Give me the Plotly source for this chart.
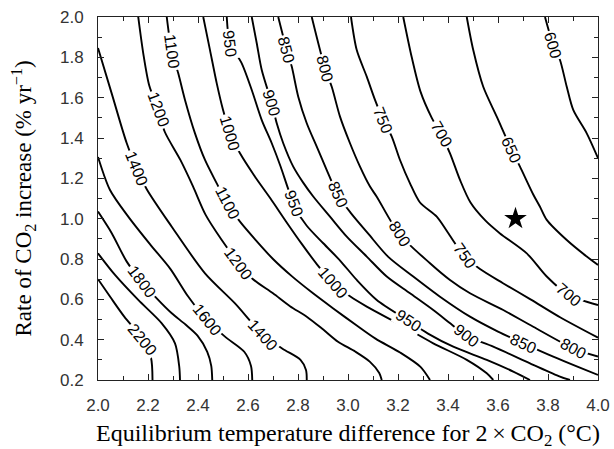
import math
import plotly.graph_objects as go

# ---- contour lines (x = equilibrium dT for 2xCO2, y = rate of CO2 increase) ----
x_2200 = [2.0, 2.05, 2.105, 2.178, 2.212, 2.218]
y_2200 = [0.70, 0.61, 0.514, 0.403, 0.31, 0.2]

x_2000 = [2.0, 2.068, 2.161, 2.255, 2.308, 2.325, 2.328]
y_2000 = [0.828, 0.721, 0.597, 0.481, 0.382, 0.266, 0.2]

x_1800 = [2.0, 2.055, 2.115, 2.175, 2.235, 2.295, 2.35, 2.398, 2.437, 2.453, 2.457]
y_1800 = [1.035, 0.928, 0.787, 0.688, 0.605, 0.531, 0.475, 0.42, 0.34, 0.27, 0.2]

x_1600 = [2.0, 2.048, 2.121, 2.21, 2.29, 2.36, 2.435, 2.508, 2.585, 2.612, 2.617]
y_1600 = [1.306, 1.142, 1.01, 0.87, 0.75, 0.615, 0.498, 0.415, 0.34, 0.27, 0.2]

x_1400 = [2.0, 2.055, 2.115, 2.155, 2.195, 2.295, 2.428, 2.548, 2.661, 2.738, 2.81, 2.832, 2.835]
y_1400 = [1.846, 1.62, 1.374, 1.25, 1.146, 0.96, 0.729, 0.58, 0.423, 0.355, 0.30, 0.25, 0.2]

x_1200 = [2.161, 2.181, 2.205, 2.241, 2.267, 2.33, 2.38, 2.43, 2.495, 2.562, 2.62, 2.70, 2.768,
          2.835, 2.901, 2.96, 3.03, 3.088, 3.125, 3.135]
y_1200 = [2.0, 1.82, 1.66, 1.539, 1.431, 1.29, 1.16, 1.02, 0.894, 0.78, 0.70, 0.63, 0.566,
          0.514, 0.45, 0.39, 0.34, 0.29, 0.235, 0.2]

x_1100 = [2.275, 2.295, 2.321, 2.348, 2.388, 2.428, 2.475, 2.516, 2.568, 2.63, 2.70, 2.775,
          2.855, 2.941, 3.035, 3.11, 3.21, 3.29, 3.328]
y_1100 = [2.0, 1.828, 1.721, 1.589, 1.423, 1.291, 1.175, 1.078, 0.985, 0.895, 0.80, 0.715,
          0.635, 0.555, 0.47, 0.405, 0.335, 0.265, 0.2]

x_1000 = [2.421, 2.448, 2.475, 2.50, 2.528, 2.568, 2.628, 2.69, 2.75, 2.815, 2.875, 2.939,
          3.008, 3.075, 3.208, 3.341, 3.475, 3.555, 3.581]
y_1000 = [2.0, 1.836, 1.671, 1.54, 1.423, 1.324, 1.208, 1.10, 0.99, 0.875, 0.775, 0.683,
          0.615, 0.564, 0.475, 0.382, 0.30, 0.233, 0.2]

x_950 = [2.515, 2.528, 2.575, 2.615, 2.655, 2.695, 2.73, 2.76, 2.79, 2.835, 2.901, 2.97,
         3.035, 3.115, 3.241, 3.32, 3.421, 3.555, 3.661, 3.728]
y_950 = [2.0, 1.87, 1.77, 1.638, 1.489, 1.374, 1.26, 1.15, 1.05, 0.965, 0.878, 0.79,
         0.696, 0.597, 0.494, 0.43, 0.365, 0.30, 0.242, 0.2]

x_900 = [2.615, 2.635, 2.655, 2.695, 2.715, 2.741, 2.781, 2.82, 2.861, 2.928, 2.995, 3.075,
         3.155, 3.248, 3.341, 3.41, 3.472, 3.581, 3.728, 3.848, 3.888]
y_900 = [2.0, 1.87, 1.737, 1.572, 1.473, 1.374, 1.258, 1.18, 1.11, 1.01, 0.911, 0.812,
         0.713, 0.63, 0.547, 0.48, 0.42, 0.365, 0.283, 0.217, 0.2]

x_850 = [2.721, 2.755, 2.775, 2.801, 2.835, 2.875, 2.915, 2.959, 3.01, 3.08, 3.16, 3.261,
         3.368, 3.488, 3.60, 3.701, 3.821, 3.92, 4.0]
y_850 = [2.0, 1.836, 1.754, 1.605, 1.473, 1.357, 1.241, 1.118, 1.03, 0.927, 0.812, 0.713,
         0.613, 0.514, 0.44, 0.382, 0.316, 0.265, 0.225]

x_800 = [2.855, 2.908, 2.935, 2.968, 3.008, 3.048, 3.088, 3.115, 3.205, 3.328, 3.408, 3.488,
         3.621, 3.741, 3.901, 4.0]
y_800 = [2.0, 1.746, 1.654, 1.506, 1.374, 1.258, 1.159, 1.109, 0.924, 0.779, 0.696, 0.63,
         0.547, 0.464, 0.357, 0.316]

x_750 = [3.012, 3.035, 3.075, 3.108, 3.141, 3.175, 3.208, 3.248, 3.288, 3.355, 3.40, 3.465,
         3.528, 3.62, 3.73, 3.85, 4.0]
y_750 = [2.0, 1.836, 1.704, 1.589, 1.489, 1.407, 1.291, 1.175, 1.08, 1.01, 0.93, 0.815,
         0.75, 0.68, 0.60, 0.51, 0.41]

x_700 = [3.221, 3.255, 3.29, 3.335, 3.372, 3.408, 3.448, 3.49, 3.55, 3.608, 3.715, 3.795,
         3.881, 4.0]
y_700 = [2.0, 1.80, 1.63, 1.50, 1.42, 1.324, 1.192, 1.08, 0.99, 0.927, 0.828, 0.713,
         0.622, 0.572]

x_650 = [3.475, 3.501, 3.541, 3.595, 3.655, 3.688, 3.741, 3.768, 3.795, 3.875, 3.955, 4.0]
y_650 = [2.0, 1.836, 1.654, 1.506, 1.34, 1.258, 1.12, 1.059, 0.994, 0.894, 0.812, 0.77]

x_600 = [3.788, 3.821, 3.848, 3.875, 3.901, 3.955, 4.0]
y_600 = [2.0, 1.861, 1.787, 1.654, 1.539, 1.423, 1.30]

# ---- contour labels (value and approximate position along its line) ----
label_values = [2200, 1800, 1600, 1400, 1400, 1200, 1200, 1100, 1100, 1000, 1000,
                950, 950, 950, 900, 900, 850, 850, 850, 800, 800, 800, 750, 750,
                700, 700, 650, 600]
label_x = [2.178, 2.175, 2.435, 2.155, 2.661, 2.241, 2.562, 2.295, 2.516, 2.528, 2.939,
           2.528, 2.775, 3.241, 2.695, 3.472, 2.755, 2.959, 3.701, 2.908, 3.205, 3.901,
           3.141, 3.465, 3.372, 3.881, 3.655, 3.821]
label_y = [0.403, 0.688, 0.498, 1.25, 0.423, 1.539, 0.78, 1.828, 1.078, 1.423, 0.683,
           1.87, 1.07, 0.494, 1.572, 0.42, 1.836, 1.118, 0.382, 1.746, 0.924, 0.357,
           1.489, 0.815, 1.42, 0.622, 1.34, 1.861]

# ---- marked point ----
star_x = [3.67]
star_y = [1.0]

x_range = [2.0, 4.0]
y_range = [0.2, 2.0]

lines = {
    2200: (x_2200, y_2200), 2000: (x_2000, y_2000), 1800: (x_1800, y_1800),
    1600: (x_1600, y_1600), 1400: (x_1400, y_1400), 1200: (x_1200, y_1200),
    1100: (x_1100, y_1100), 1000: (x_1000, y_1000), 950: (x_950, y_950),
    900: (x_900, y_900), 850: (x_850, y_850), 800: (x_800, y_800),
    750: (x_750, y_750), 700: (x_700, y_700), 650: (x_650, y_650), 600: (x_600, y_600),
}

W, H = 614, 449
ML, MR, MT, MB = 98, 16, 17, 69
PW, PH = W - ML - MR, H - MT - MB
sx = PW / (x_range[1] - x_range[0])
sy = PH / (y_range[1] - y_range[0])

fig = go.Figure()
for lev, (xs, ys) in lines.items():
    fig.add_trace(go.Scatter(
        x=xs, y=ys, mode="lines",
        line=dict(color="black", width=1.9, shape="spline", smoothing=0.8),
        hoverinfo="skip", showlegend=False))

fig.add_trace(go.Scatter(
    x=star_x, y=star_y, mode="markers",
    marker=dict(symbol="star", size=17, color="black", line=dict(width=0)),
    hoverinfo="skip", showlegend=False))


def place_on_line(xs, ys, lx, ly):
    best = None
    px, py = lx * sx, -ly * sy
    for i in range(len(xs) - 1):
        ax, ay = xs[i] * sx, -ys[i] * sy
        bx, by = xs[i + 1] * sx, -ys[i + 1] * sy
        dx, dy = bx - ax, by - ay
        t = ((px - ax) * dx + (py - ay) * dy) / (dx * dx + dy * dy)
        t = max(0.0, min(1.0, t))
        qx, qy = ax + t * dx, ay + t * dy
        d = (qx - px) ** 2 + (qy - py) ** 2
        if best is None or d < best[0]:
            best = (d, qx / sx, -qy / sy, math.degrees(math.atan2(dy, dx)))
    return best[1], best[2], best[3]


annotations = []
for v, lx, ly in zip(label_values, label_x, label_y):
    xs, ys = lines[v]
    ax_, ay_, ang = place_on_line(xs, ys, lx, ly)
    annotations.append(dict(
        x=ax_, y=ay_, xref="x", yref="y", text=str(v), showarrow=False,
        textangle=ang, bgcolor="white", borderpad=1,
        font=dict(family="Liberation Sans", size=16, color="black")))

annotations.append(dict(
    x=0.5, y=0, xref="paper", yref="paper", yanchor="middle", yshift=-55,
    text="Equilibrium temperature difference for 2\u2009\u00d7\u2009CO<sub>2</sub> (\u00b0C)",
    showarrow=False, font=dict(family="Liberation Serif", size=24, color="black")))
annotations.append(dict(
    x=0, y=0.5, xref="paper", yref="paper", xanchor="center", xshift=-75,
    text="Rate of CO<sub>2</sub> increase (% yr<sup>\u22121</sup>)", textangle=-90,
    showarrow=False, font=dict(family="Liberation Serif", size=23, color="black")))

axis_common = dict(
    showgrid=False, zeroline=False, showline=True, linecolor="#222", linewidth=1,
    mirror="ticks", ticks="inside", ticklen=6, tickcolor="#222", tickwidth=1,
    tickformat=".1f", ticklabelstandoff=10, automargin=False,
    tickfont=dict(family="Liberation Sans", size=17, color="#333"),
)

fig.update_layout(
    width=W, height=H, margin=dict(l=ML, r=MR, t=MT, b=MB, autoexpand=False),
    paper_bgcolor="white", plot_bgcolor="white",
    xaxis=dict(range=x_range, tick0=2.0, dtick=0.2,
               minor=dict(dtick=0.1, tick0=2.0, ticks="inside", ticklen=4, tickcolor="#222"),
               **axis_common),
    yaxis=dict(range=y_range, tick0=0.2, dtick=0.2,
               minor=dict(dtick=0.1, tick0=0.2, ticks="inside", ticklen=4, tickcolor="#222"),
               **axis_common),
    annotations=annotations,
    showlegend=False,
)

fig.write_html("out.html")
